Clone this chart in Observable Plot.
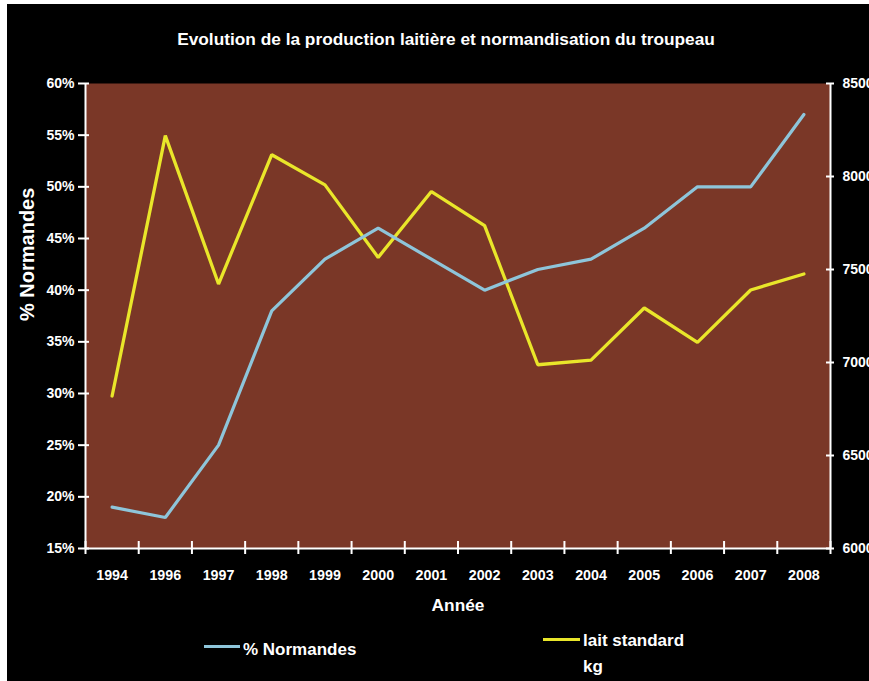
<!DOCTYPE html>
<html>
<head>
<meta charset="utf-8">
<script src="https://cdn.jsdelivr.net/npm/d3@7"></script>
<script src="https://cdn.jsdelivr.net/npm/@observablehq/plot@0.6"></script>
<style>
  html, body { margin: 0; padding: 0; background: #ffffff; }
  #frame {
    position: absolute; left: 7px; top: 4px; width: 862px; height: 677px;
    background: #000000; color: #ffffff; overflow: hidden;
    font-family: "Liberation Sans", Arial, sans-serif; font-weight: bold;
  }
  #title {
    height: 56px; box-sizing: border-box; padding-top: 25px; padding-left: 16px;
    text-align: center; font-size: 17.3px; line-height: 20px; white-space: nowrap;
  }
  #chart svg { display: block; }
  .leg-line { position: absolute; height: 3px; }
  .leg-text { position: absolute; font-size: 17px; line-height: 26px; white-space: nowrap; }
</style>
</head>
<body>
<div id="frame">
  <div id="title">Evolution de la production laitière et normandisation du troupeau</div>
  <div id="chart"></div>
  <div class="leg-line" style="left:197px; top:641px; width:36px; background:#8ec5da;"></div>
  <div class="leg-text" style="left:236px; top:633px;">% Normandes</div>
  <div class="leg-line" style="left:536px; top:634px; width:37px; background:#e9e62a;"></div>
  <div class="leg-text" style="left:576px; top:624px;">lait standard<br>kg</div>
</div>
<script>
const years = ["1994","1996","1997","1998","1999","2000","2001","2002","2003","2004","2005","2006","2007","2008"];
const pctNormandes = [19, 18, 25, 38, 43, 46, 43, 40, 42, 43, 46, 50, 50, 57];
const laitStandardKg = [6820, 8220, 7422, 8117, 7955, 7565, 7919, 7736, 6988, 7013, 7293, 7108, 7390, 7476];
const leftTicks = [15, 20, 25, 30, 35, 40, 45, 50, 55, 60];
const rightTicks = [6000, 6500, 7000, 7500, 8000, 8500];

const pctDomain = [leftTicks[0], leftTicks[leftTicks.length - 1]];
const kgDomain = [rightTicks[0], rightTicks[rightTicks.length - 1]];
const kgToPct = v => pctDomain[0] + (v - kgDomain[0]) * (pctDomain[1] - pctDomain[0]) / (kgDomain[1] - kgDomain[0]);
const pctToKg = p => kgDomain[0] + (p - pctDomain[0]) * (kgDomain[1] - kgDomain[0]) / (pctDomain[1] - pctDomain[0]);

const idx = years.map((_, i) => i);
const boundaries = d3.range(years.length + 1).map(i => i - 0.5);
const normData = idx.map(i => ({i, v: pctNormandes[i]}));
const laitData = idx.map(i => ({i, v: kgToPct(laitStandardKg[i])}));

const BROWN = "#7a3727", BLUE = "#8ec5da", YELLOW = "#e9e62a";

const chart = Plot.plot({
  width: 862,
  height: 565,
  marginLeft: 78,
  marginRight: 39,
  marginTop: 23,
  marginBottom: 77,
  style: {background: "transparent", color: "#ffffff", fontFamily: "Liberation Sans, Arial, sans-serif", fontWeight: "bold", fontSize: "14px", overflow: "visible"},
  x: {domain: [boundaries[0], boundaries[boundaries.length - 1]]},
  y: {domain: pctDomain},
  marks: [
    Plot.frame({fill: BROWN, stroke: null}),
    Plot.line(laitData, {x: "i", y: "v", stroke: YELLOW, strokeWidth: 3.3, strokeLinejoin: "miter"}),
    Plot.line(normData, {x: "i", y: "v", stroke: BLUE, strokeWidth: 3.2, strokeLinejoin: "miter"}),
    Plot.ruleY([pctDomain[0]], {stroke: "#ffffff", strokeWidth: 2}),
    Plot.ruleX([boundaries[0], boundaries[boundaries.length - 1]], {stroke: "#ffffff", strokeWidth: 2}),
    // x axis: boundary ticks and centered labels
    Plot.axisX({ticks: boundaries, tickSize: 13, dy: -7, tickFormat: () => "", stroke: "#ffffff", strokeWidth: 2, label: null}),
    Plot.axisX({ticks: idx, tickSize: 0, tickPadding: 21, tickFormat: i => years[i], fill: "#ffffff", fontSize: 14.3, label: null}),
    // left axis
    Plot.axisY({anchor: "left", ticks: leftTicks, tickSize: 11, dx: 4, tickFormat: () => "", stroke: "#ffffff", strokeWidth: 2, label: null}),
    Plot.axisY({anchor: "left", ticks: leftTicks, tickSize: 0, tickPadding: 11, tickFormat: d => d + "%", fill: "#ffffff", fontSize: 14, label: null}),
    // right axis
    Plot.axisY({anchor: "right", ticks: rightTicks.map(kgToPct), tickSize: 8, dx: -5, tickFormat: () => "", stroke: "#ffffff", strokeWidth: 2, label: null}),
    Plot.axisY({anchor: "right", ticks: rightTicks.map(kgToPct), tickSize: 0, tickPadding: 12, tickFormat: p => String(Math.round(pctToKg(p))), fill: "#ffffff", fontSize: 14, label: null}),
    // axis titles
    Plot.text(["Année"], {frameAnchor: "bottom", dy: 62, fill: "#ffffff", fontSize: 17.3, fontWeight: "bold"}),
    Plot.text(["% Normandes"], {frameAnchor: "left", rotate: -90, dx: -58, dy: 5, fill: "#ffffff", fontSize: 20, fontWeight: "bold"})
  ]
});
document.getElementById("chart").appendChild(chart);
</script>
</body>
</html>
